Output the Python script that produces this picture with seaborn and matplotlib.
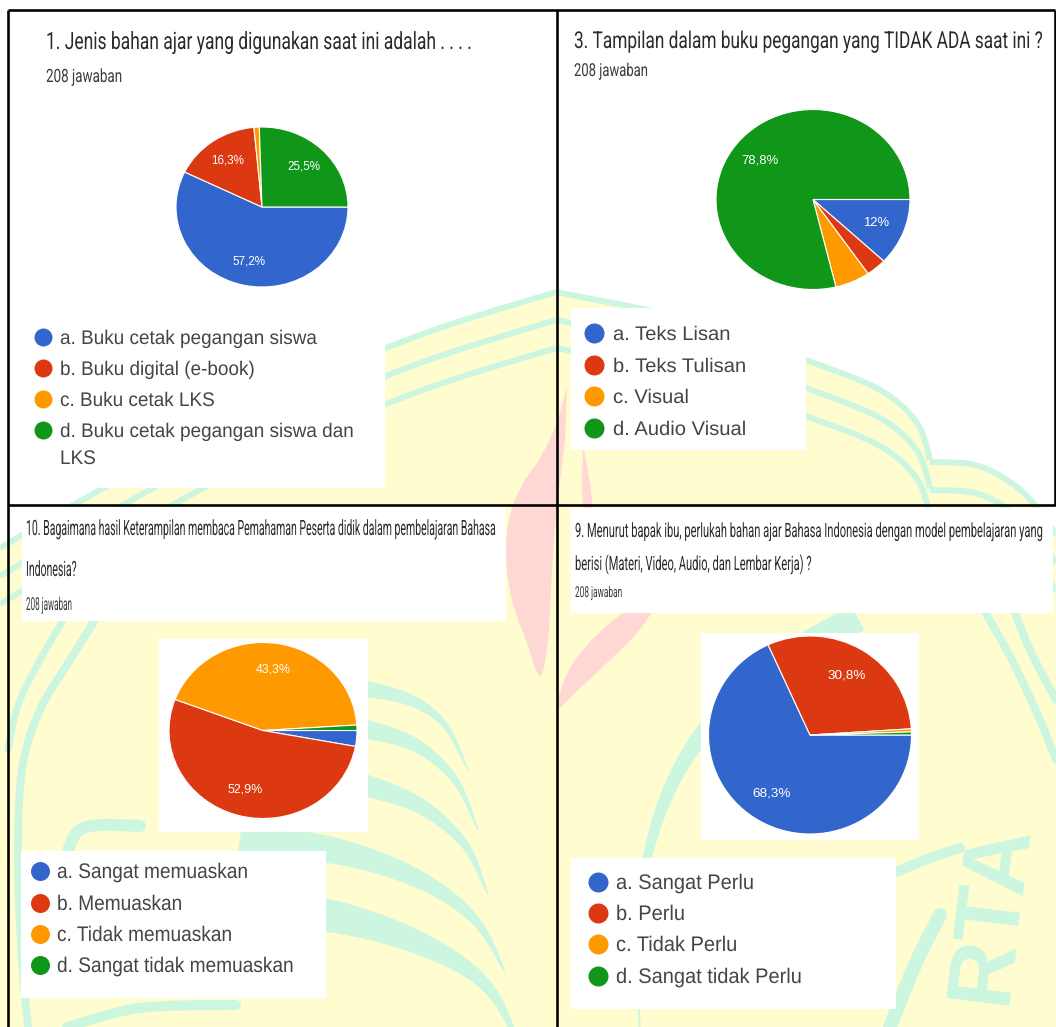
import numpy as np
import matplotlib
matplotlib.use("Agg")
import matplotlib.pyplot as plt
import seaborn as sns
from matplotlib.patches import Polygon, Rectangle
from matplotlib.patheffects import AbstractPathEffect
from matplotlib.transforms import Affine2D

# ---------------- survey results (208 responses per question) ----------------
responses = "208 jawaban"

q1_title = ["1. Jenis bahan ajar yang digunakan saat ini adalah . . . ."]
q1_labels = ["a. Buku cetak pegangan siswa", "b. Buku digital (e-book)",
             "c. Buku cetak LKS", "d. Buku cetak pegangan siswa dan\nLKS"]
q1_pct = [57.2, 16.3, 1.0, 25.5]

q3_title = ["3. Tampilan dalam buku pegangan yang TIDAK ADA saat ini ?"]
q3_labels = ["a. Teks Lisan", "b. Teks Tulisan", "c. Visual", "d. Audio Visual"]
q3_pct = [12.0, 3.4, 5.8, 78.8]

q10_title = ["10. Bagaimana hasil Keterampilan membaca Pemahaman Peserta didik dalam pembelajaran Bahasa",
             "Indonesia?"]
q10_labels = ["a. Sangat memuaskan", "b. Memuaskan", "c. Tidak memuaskan",
              "d. Sangat tidak memuaskan"]
q10_pct = [2.9, 52.9, 43.3, 1.0]

q9_title = ["9. Menurut bapak ibu, perlukah bahan ajar Bahasa Indonesia dengan model pembelajaran yang",
            "berisi (Materi, Video, Audio, dan Lembar Kerja) ?"]
q9_labels = ["a. Sangat Perlu", "b. Perlu", "c. Tidak Perlu", "d. Sangat tidak Perlu"]
q9_pct = [68.3, 30.8, 0.5, 0.5]

# ---------------- style ----------------
sns.set_theme(style="white")
palette = sns.color_palette(["#3366CC", "#DC3912", "#FF9900", "#109618"])
YELLOW = "#FFFDD0"
MINT = "#CCF6E0"
PINK = "#FFD7D5"
TITLE_C = "#2a2a2a"
LEGEND_C = "#454545"
TITLE_FONT = ["Roboto", "DejaVu Sans"]
CHART_FONT = ["Liberation Sans", "DejaVu Sans"]

W, H = 1056, 1027
PT = 0.72  # points per pixel at 100 dpi

fig = plt.figure(figsize=(W / 100, H / 100), dpi=100)
fig.patch.set_facecolor("white")
bg = fig.add_axes([0, 0, 1, 1])
bg.set_xlim(0, W)
bg.set_ylim(H, 0)
bg.axis("off")
renderer = fig.canvas.get_renderer()


class VStretch(AbstractPathEffect):
    """Stretch the glyphs vertically about the baseline (tall, narrow lettering)."""

    def __init__(self, sy):
        super().__init__()
        self.sy = sy

    def draw_path(self, renderer, gc, tpath, affine, rgbFace=None):
        y0 = affine.get_matrix()[1, 2]
        t = affine + Affine2D().translate(0, -y0).scale(1, self.sy).translate(0, y0)
        renderer.draw_path(gc, tpath, t, rgbFace)


def put_text(x, base, s, cap, color, family, width=None, fit=None, z=7):
    """Draw a line of text; `width` fixes its length, `cap` its letter height."""
    fs = cap / 0.71 * PT
    t = bg.text(x, base, s, fontsize=fs, family=family, color=color,
                ha="left", va="baseline", zorder=z)
    if width is not None:
        k = width / t.get_window_extent(renderer).width
        fit = (fs * k, 1.0 / k)
    if fit is not None:
        t.set_fontsize(fit[0])
        if abs(fit[1] - 1) > 1e-3:
            t.set_path_effects([VStretch(fit[1])])
    return fit


def smooth(pts, n=24):
    P = np.asarray(pts, float)
    P = np.vstack([P[0], P, P[-1]])
    out = []
    t = np.linspace(0, 1, n, endpoint=False)[:, None]
    for i in range(1, len(P) - 2):
        p0, p1, p2, p3 = P[i - 1], P[i], P[i + 1], P[i + 2]
        out.append(0.5 * (2 * p1 + (-p0 + p2) * t + (2 * p0 - 5 * p1 + 4 * p2 - p3) * t ** 2
                          + (-p0 + 3 * p1 - 3 * p2 + p3) * t ** 3))
    out.append(P[-2][None])
    return np.vstack(out)


def feather(pts, w0):
    """Tapered band following a smooth centre line, full width w0 at the start."""
    c = smooth(pts, 16)
    d = np.gradient(c, axis=0)
    nrm = np.column_stack([-d[:, 1], d[:, 0]])
    nrm /= np.linalg.norm(nrm, axis=1)[:, None]
    half = np.linspace(w0 / 2, 0.5, len(c))[:, None]
    return np.vstack([c + nrm * half, (c - nrm * half)[::-1]])


# ---------------- watermark background ----------------
left_arc = smooth([(0, 548), (100, 490), (250, 408), (412, 338), (556, 292)])
right_arc = smooth([(556, 292), (700, 322), (806, 360), (880, 390), (917, 423), (930, 460)])
scallop = smooth([(930, 462), (975, 465), (1010, 482), (1035, 505), (1056, 535)])
top_edge = np.vstack([left_arc, right_arc, scallop])
bg.add_patch(Polygon(np.vstack([top_edge, [(W, H), (0, H)]]), closed=True,
                     fc=YELLOW, ec="none", zorder=1))
for dy in (0, 28, 56):
    for seg in (left_arc, right_arc, scallop):
        bg.plot(seg[:, 0], seg[:, 1] + dy, color=MINT, lw=6 * PT, zorder=2,
                solid_capstyle="butt")

flames = [
    [(567, 387), (556, 425), (540, 458), (522, 485), (510, 515), (506, 555), (512, 600),
     (526, 640), (540, 676), (548, 640), (551, 590), (554, 540), (559, 490), (565, 440)],
    [(583, 445), (588, 472), (592, 500), (593, 530), (589, 562), (584, 525), (582, 485)],
    [(650, 598), (620, 615), (590, 642), (568, 672), (557, 708), (578, 690), (606, 664),
     (636, 634), (655, 608)],
]
for f in flames:
    bg.add_patch(Polygon(smooth(f, 10), closed=True, fc=PINK, ec="none", zorder=2))

# leaf fronds in the lower half
fronds = [
    ([(300, 680), (360, 688), (410, 700), (445, 725), (468, 770)], 22),
    ([(300, 720), (360, 728), (415, 745), (455, 780), (478, 830)], 26),
    ([(300, 772), (360, 784), (420, 806), (465, 845), (488, 895)], 30),
    ([(240, 838), (340, 852), (420, 880), (475, 920), (505, 972)], 34),
    ([(230, 905), (340, 918), (430, 948), (490, 990), (525, 1060)], 42),
    ([(858, 618), (800, 648), (745, 688), (698, 740), (665, 800), (645, 870), (638, 950),
      (640, 1040)], 28),
]
for pts, w in fronds:
    bg.add_patch(Polygon(feather(pts, w), closed=True, fc=MINT, ec="none", zorder=2))

strokes = [
    ([(95, 620), (70, 660), (40, 710), (22, 770), (18, 860), (22, 960), (28, 1027)], 8),
    ([(62, 622), (40, 660), (18, 705), (8, 750)], 7),
    ([(140, 826), (100, 825), (80, 830), (70, 845), (68, 862)], 12),
    ([(67, 1027), (140, 1008), (236, 1005)], 10),
    ([(1010, 600), (1030, 650), (1056, 700)], 8),
    ([(985, 612), (1012, 660), (1040, 720), (1056, 760)], 8),
    ([(896, 872), (930, 858), (960, 848)], 10),
    ([(890, 1027), (915, 965), (940, 915)], 14),
]
for pts, w in strokes:
    c = smooth(pts, 16)
    bg.plot(c[:, 0], c[:, 1], color=MINT, lw=w * PT, zorder=2, solid_capstyle="round")

bg.text(991, 912, "RTA", rotation=83, fontsize=66, fontweight="bold", color=MINT,
        family=CHART_FONT, ha="center", va="center", zorder=2)

# white panels of the form screenshots
boxes = [(8, 300, 385, 488), (571, 308, 806, 450), (22, 507, 506, 621), (159, 639, 368, 832),
         (21, 851, 326, 998), (571, 508, 1053, 613), (701, 633, 919, 840), (571, 858, 896, 1009)]
for x0, y0, x1, y1 in boxes:
    bg.add_patch(Rectangle((x0, y0), x1 - x0, y1 - y0, fc="white", ec="none", zorder=3))

# frame grid
for xs, ys in [([8, 8], [10, H]), ([8, 1055], [10, 10]), ([1055, 1055], [10, 505]),
               ([557, 557], [10, H]), ([8, W], [505, 505])]:
    bg.plot(xs, ys, color="black", lw=2.6 * PT, zorder=10, solid_capstyle="butt")


# ---------------- charts ----------------
def fmt(v):
    s = f"{v:.1f}"
    if s.endswith(".0"):
        s = s[:-2]
    return s.replace(".", ",") + "%"


def draw_pie(cx, cy, rx, ry, pct, fs):
    pad = 1.03
    ax = fig.add_axes([(cx - rx * pad) / W, 1 - (cy + ry * pad) / H,
                       2 * rx * pad / W, 2 * ry * pad / H])
    labels = [fmt(v) if v >= 10 else "" for v in pct]
    wedges, texts = ax.pie(pct, colors=palette, startangle=0, counterclock=False,
                           labels=labels, labeldistance=0.7,
                           wedgeprops=dict(edgecolor="white", linewidth=0.8),
                           textprops=dict(color="white", fontsize=fs, family=CHART_FONT))
    for t in texts:
        t.set_ha("center")
        t.set_va("center")
    ax.set_aspect("auto")
    ax.set_xlim(-pad, pad)
    ax.set_ylim(-pad, pad)
    ax.axis("off")
    ax.patch.set_alpha(0)


panels = [
    dict(title=q1_title, tx=46, tbase=[49], tcap=17, tw=427, sbase=82, scap=13, sw=76,
         pct=q1_pct, labels=q1_labels, pie=(262, 207, 86, 80), pfs=8.4,
         cx=43, lx=60, rows=[337, 368, 399, 430], d=18, lcap=14, lw=258),
    dict(title=q3_title, tx=574, tbase=[48], tcap=16.5, tw=469, sbase=76, scap=12.7, sw=74,
         pct=q3_pct, labels=q3_labels, pie=(813, 199.5, 97, 90), pfs=9.4,
         cx=594, lx=613, rows=[333, 365, 396, 428], d=20, lcap=14, lw=118),
    dict(title=q10_title, tx=26, tbase=[535, 576], tcap=15, tw=470, sbase=610, scap=12.7, sw=46,
         pct=q10_pct, labels=q10_labels, pie=(263, 730.5, 94, 88), pfs=8.9,
         cx=40, lx=57, rows=[871, 903, 934, 965], d=19, lcap=15, lw=191),
    dict(title=q9_title, tx=575, tbase=[537, 570], tcap=14, tw=469, sbase=597, scap=10.7, sw=47,
         pct=q9_pct, labels=q9_labels, pie=(810, 735, 101.5, 99), pfs=9.7,
         cx=598, lx=616, rows=[882, 913, 944, 976], d=20, lcap=15, lw=138),
]

for p in panels:
    fit = None
    for i, (line, base) in enumerate(zip(p["title"], p["tbase"])):
        if i == 0:
            fit = put_text(p["tx"], base, line, p["tcap"], TITLE_C, TITLE_FONT, width=p["tw"])
        else:
            put_text(p["tx"], base, line, p["tcap"], TITLE_C, TITLE_FONT, fit=fit)
    put_text(p["tx"], p["sbase"], responses, p["scap"], "#3a3a3a", TITLE_FONT, width=p["sw"])

    draw_pie(*p["pie"], p["pct"], p["pfs"])

    lfit = None
    for i, (lab, y) in enumerate(zip(p["labels"], p["rows"])):
        bg.scatter([p["cx"]], [y], s=(p["d"] * PT) ** 2, color=palette[i], linewidths=0,
                   zorder=6)
        for k, part in enumerate(lab.split("\n")):
            base = y + 7 + 27 * k
            if lfit is None:
                lfit = put_text(p["lx"], base, part, p["lcap"], LEGEND_C, CHART_FONT,
                                width=p["lw"])
            else:
                put_text(p["lx"], base, part, p["lcap"], LEGEND_C, CHART_FONT, fit=lfit)

fig.savefig("out.png", dpi=100, facecolor="white")
